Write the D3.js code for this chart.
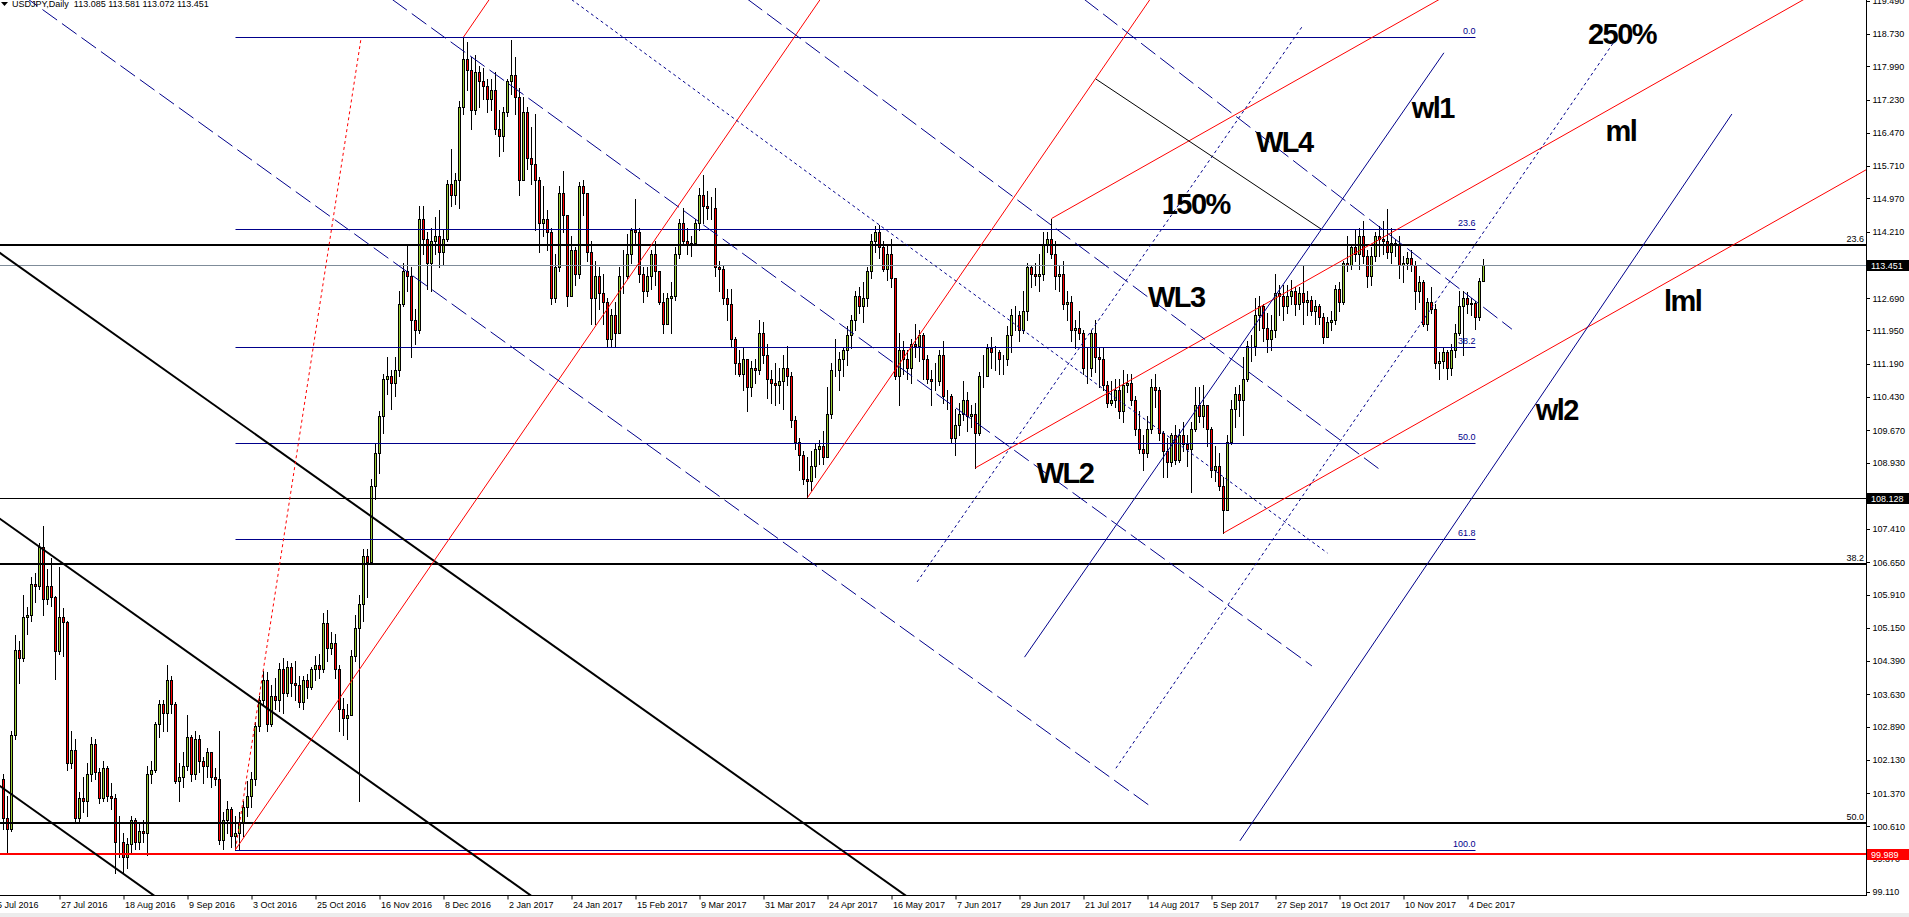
<!DOCTYPE html>
<html>
<head>
<meta charset="utf-8">
<script src="https://cdn.jsdelivr.net/npm/d3@7"></script>
<style>
html, body { margin: 0; padding: 0; background: #fff; overflow: hidden; }
svg { display: block; font-family: "Liberation Sans", Arial, sans-serif; }
</style>
</head>
<body>
<svg id="chart" width="1909" height="917"></svg>
<script>
// USDJPY daily, one row per bar: [close, high, low]; open = previous close
var firstOpen = 101.70;

var jul16toSep16 = [
  // Jul 2016
  [100.80,101.80,100.55],[100.55,101.30,99.99],[102.70,102.80,100.50],[104.65,104.99,102.62],[104.45,104.85,103.90],
  [105.40,105.90,104.40],[105.45,105.63,105.02],[106.15,106.32,105.30],[106.10,106.40,105.75],[107.00,107.10,106.05],
  [105.80,107.48,105.45],[106.10,106.50,105.70],[105.85,106.75,105.65],[104.62,105.88,103.98],[105.40,106.55,104.55],
  [105.28,105.60,104.50],[102.05,105.30,101.90],
  // Aug 2016
  [102.35,102.80,101.95],[100.80,102.60,100.70],[101.25,101.40,100.70],[101.20,101.75,100.95],[101.80,102.05,100.85],
  [102.50,102.65,101.65],[101.85,102.60,101.70],[101.25,101.95,101.15],[101.95,102.10,101.20],[101.30,102.00,101.20],
  [101.25,101.60,101.00],[100.25,101.35,99.55],[100.25,100.85,99.90],[99.90,100.45,99.55],[100.20,100.35,99.65],
  [100.75,100.85,100.00],[100.25,100.80,100.10],[100.50,100.70,100.10],[100.45,100.75,100.25],[101.80,102.00,99.95],
  [101.90,102.10,101.60],[102.95,103.00,101.85],[103.40,103.50,102.65],
  // Sep 2016
  [103.20,103.50,102.80],[103.95,104.30,102.80],
  [103.40,104.05,103.20],[101.65,103.45,101.60],[101.75,102.05,101.20],[102.00,102.30,101.50],[102.65,103.15,101.90],
  [101.80,102.70,101.65],[102.60,102.80,101.70],[102.10,102.70,101.85],[102.00,102.20,101.60],[102.30,102.40,101.75],
  [101.75,102.30,101.50],[101.70,101.95,101.55],[100.30,102.80,100.20],[100.75,100.95,100.10],[101.00,101.20,100.45],
  [100.40,101.05,100.15],[100.45,100.85,100.08],[100.70,100.95,100.10],[101.05,101.20,100.40],[101.30,101.65,100.85]
];

var oct16toDec16 = [
  // Oct 2016
  [101.70,101.85,101.05],[102.90,103.00,101.55],[103.50,103.60,102.80],[103.95,104.16,103.40],[102.95,104.15,102.80],
  [103.60,103.85,102.90],[103.50,104.00,103.30],[104.20,104.35,103.25],[103.65,104.45,103.20],[104.25,104.40,103.60],
  [103.90,104.35,103.60],[103.85,104.40,103.50],[103.45,104.05,103.35],[103.95,104.05,103.30],[103.80,104.10,103.55],
  [104.20,104.25,103.75],[104.30,104.50,103.95],[104.20,104.55,104.00],[105.25,105.50,104.15],[104.70,105.55,104.40],
  [104.80,105.05,104.55],
  // Nov 2016
  [104.20,105.00,104.00],[103.30,104.30,102.80],[103.10,103.55,102.70],[103.15,103.40,102.60],
  [104.50,104.65,103.25],[105.15,105.45,104.40],[105.70,105.90,101.20],[106.80,106.95,105.30],[106.65,106.95,105.85],
  [108.40,108.55,106.60],[109.15,109.35,108.10],[110.00,110.10,108.70],[110.85,110.95,109.60],[110.90,111.35,110.50],
  [110.75,111.05,110.15],[111.05,111.35,110.45],[112.55,112.85,110.90],[113.30,113.50,112.50],[113.20,113.90,112.85],
  [112.20,113.40,111.35],[111.95,112.45,111.65],[114.50,114.80,111.90],
  // Dec 2016
  [114.05,114.80,113.70],[113.50,114.20,112.90],
  [114.00,114.30,112.85],[114.10,114.55,113.70],[113.75,114.70,113.40],[114.05,114.25,113.45],[115.30,115.40,114.00],
  [115.05,116.10,114.80],[115.40,115.55,114.85],[117.05,117.20,114.75],[118.15,118.66,116.90],[117.90,118.55,117.45],
  [117.00,118.20,116.55],[117.85,118.25,116.90],[117.65,118.00,117.05],[117.55,117.95,117.25],[117.25,117.70,116.95],
  [117.45,117.70,117.00],[116.55,117.85,116.45],[116.40,117.00,115.95],[116.95,117.05,116.05]
];

var jan17toMar17 = [
  // Jan 2017
  [117.65,117.70,116.85],[117.80,118.59,117.35],[117.30,118.20,116.90],[115.40,117.50,115.05],[116.95,117.30,115.40],
  [115.90,117.05,115.65],[115.75,116.60,115.30],[115.40,116.90,114.25],[114.40,115.45,113.75],[114.50,115.25,114.10],
  [114.20,114.70,113.80],[112.70,114.30,112.55],[113.40,113.70,112.60],[115.10,115.25,113.30],[114.60,115.60,114.20],
  [112.75,114.60,112.50],[113.80,114.10,112.90],[113.25,113.85,113.00],[115.25,115.35,113.15],[115.10,115.40,114.60],
  [113.75,115.10,113.55],[112.70,114.00,112.10],
  // Feb 2017
  [113.20,113.55,112.10],[112.80,113.40,112.45],[112.60,113.25,112.10],
  [111.75,112.70,111.60],[112.30,112.45,111.60],[111.90,112.60,111.60],[113.20,113.40,111.95],[113.20,113.80,112.80],
  [113.70,114.15,113.15],[114.25,114.30,113.50],[114.20,114.95,113.95],[113.25,114.30,113.05],[112.85,113.40,112.60],
  [113.20,113.40,112.75],[113.70,113.80,112.90],[113.30,114.00,113.00],[112.60,113.30,112.55],[112.10,112.80,111.90],
  [112.70,112.80,112.10],[112.75,113.05,111.90],
  // Mar 2017
  [113.70,113.85,112.65],[114.40,114.50,113.60],[114.00,114.75,113.90],
  [113.90,114.30,113.70],[113.95,114.10,113.65],[114.40,114.50,113.90],[115.05,115.20,114.25],[114.80,115.51,114.40],
  [114.75,115.15,114.50],[114.75,115.00,114.50],[113.40,115.20,113.20],[113.35,113.55,112.85],[112.70,113.45,112.55],
  [112.55,112.90,112.20],[111.75,112.90,111.60],[111.20,111.80,110.95],[110.95,111.50,110.90],[111.30,111.55,110.60],
  [110.65,111.10,110.10],[111.10,111.25,110.45],[111.05,111.30,110.75],[111.90,112.20,110.95],[111.40,112.15,111.20]
];

var apr17toJun17 = [
  // Apr 2017
  [110.85,111.65,110.40],[110.75,111.05,110.30],[110.70,111.20,110.25],[110.80,111.10,110.30],[111.10,111.40,110.15],
  [110.90,111.60,110.70],[109.90,111.00,109.75],[109.40,110.00,109.25],[109.10,109.50,108.75],[108.55,109.20,108.45],
  [108.50,109.05,108.13],[108.85,109.20,108.30],[109.25,109.35,108.60],[109.30,109.45,108.90],[109.05,109.65,108.90],
  [110.05,110.65,109.50],[111.05,111.20,109.95],[111.05,111.75,110.90],[111.30,111.45,110.60],[111.50,111.55,110.90],
  // May 2017
  [111.85,112.05,111.15],[112.20,112.30,111.55],[112.75,112.85,111.95],[112.50,112.95,112.35],[112.70,113.05,112.15],
  [113.30,113.40,112.50],[114.00,114.15,113.15],[114.20,114.35,113.75],[113.85,114.37,113.60],[113.35,114.00,113.30],
  [113.70,113.90,113.10],[113.15,114.05,112.95],[110.90,113.15,110.85],[111.50,111.90,110.25],[111.30,111.70,110.95],
  [111.10,111.50,110.85],[111.65,111.75,110.75],[111.60,112.10,111.35],[111.85,111.95,111.25],[111.30,111.90,110.85],
  [110.85,111.40,110.75],[110.80,111.05,110.25],[110.80,111.20,110.60],
  // Jun 2017
  [111.40,111.50,110.70],[110.45,111.70,110.30],
  [110.45,110.60,110.15],[109.50,110.50,109.40],[109.80,110.15,109.10],[110.05,110.30,109.55],[110.35,110.80,109.90],
  [110.00,110.55,109.65],[110.05,110.25,109.75],[109.60,110.30,108.81],[110.90,111.00,109.55],[110.90,111.40,110.65],
  [111.55,111.65,110.90],[111.45,111.80,111.10],[111.45,111.60,111.05],[111.30,111.50,110.95],[111.30,111.40,110.95],
  [111.85,112.05,111.15],[112.30,112.45,111.45],[112.30,112.50,111.95],[111.95,112.40,111.70],[112.40,112.85,111.90]
];

var jul17toSep17 = [
  // Jul 2017
  [113.40,113.50,112.20],[113.25,113.45,112.95],[113.20,113.50,113.00],[113.25,113.70,112.85],[113.90,114.20,113.10],
  [114.05,114.20,113.75],[113.70,114.50,113.60],[113.20,114.00,112.90],[113.25,113.45,112.85],[112.55,113.55,112.45],
  [112.60,112.85,112.20],[111.95,112.75,111.70],[112.00,112.20,111.55],[111.90,112.40,111.75],[111.10,111.95,110.95],
  [111.10,111.55,110.75],[111.90,111.95,110.90],[111.35,112.20,111.00],[111.30,111.55,110.65],[110.70,111.55,110.60],
  [110.30,110.80,110.20],
  // Aug 2017
  [110.35,110.80,110.25],[110.60,110.85,110.20],[110.10,110.85,109.95],[110.70,111.05,109.85],
  [110.75,110.95,110.55],[110.35,110.95,110.25],[109.70,110.45,109.55],[109.25,110.10,109.15],[109.15,109.55,108.75],
  [109.70,110.00,109.05],[110.65,110.85,109.60],[110.60,110.95,110.20],[109.60,110.65,109.45],[109.20,109.65,108.60],
  [108.95,109.50,108.60],[109.55,109.60,108.85],[109.00,109.80,108.90],[109.55,109.70,108.95],[109.35,109.85,109.20],
  [109.25,109.55,108.85],[109.70,109.85,108.25],[110.25,110.65,109.65],[110.00,110.65,109.85],
  // Sep 2017
  [110.25,110.70,109.75],
  [109.70,110.00,109.30],[108.75,109.75,108.60],[108.85,109.30,108.50],[108.40,109.15,108.30],[107.85,108.60,107.32],
  [109.40,109.55,108.10],[110.15,110.35,109.35],[110.50,110.65,109.75],[110.35,110.70,110.00],[110.85,111.35,109.55],
  [111.60,111.70,110.80],[111.60,111.85,111.25],[112.30,112.70,111.40],[112.50,112.75,111.95],[112.00,112.55,111.70],
  [111.75,112.35,111.45],[111.95,112.30,111.50],[112.80,113.25,111.80],[112.75,113.00,112.30],[112.50,113.00,112.20]
];

var oct17toDec17 = [
  // Oct 2017
  [112.75,113.00,112.35],[112.85,113.10,112.55],[112.55,112.95,112.30],[112.80,112.95,112.45],[112.60,113.45,112.10],
  [112.65,112.85,112.30],[112.40,112.75,112.30],[112.50,112.65,112.10],[112.25,112.55,112.10],[111.80,112.35,111.67],
  [112.15,112.25,111.80],[112.20,112.40,111.95],[112.90,113.00,112.10],[112.60,113.05,112.40],[113.50,113.55,112.55],
  [113.45,114.10,113.30],[113.85,113.90,113.35],[113.70,114.25,113.55],[114.10,114.30,113.35],[113.65,114.45,113.50],
  [113.20,113.80,112.95],[113.65,113.85,113.00],
  // Nov 2017
  [114.10,114.20,113.55],[114.05,114.35,113.65],[114.00,114.45,113.70],
  [113.75,114.73,113.60],[113.95,114.30,113.50],[113.90,114.05,113.65],[113.45,114.10,113.15],[113.50,113.65,113.05],
  [113.60,113.75,113.35],[113.45,113.80,113.30],[112.85,113.55,112.45],[113.05,113.20,112.60],[112.10,113.10,112.05],
  [112.60,112.70,111.95],[112.45,112.95,112.35],[111.20,112.55,111.10],[111.25,111.45,110.85],[111.45,111.55,111.10],
  [111.10,111.50,110.84],[111.50,111.65,110.93],[111.90,112.10,111.35],[112.50,112.85,111.85],
  // Dec 2017
  [112.70,112.85,111.39],[112.55,112.84,112.35],[112.58,112.70,112.30],[112.25,112.62,111.98],[113.085,113.15,112.20],
  [113.451,113.581,113.072]
];

// right price scale
var priceTicks = [119.49,118.73,117.99,117.23,116.47,115.71,114.97,114.21,112.69,111.95,111.19,110.43,
  109.67,108.93,107.41,106.65,105.91,105.15,104.39,103.63,102.89,102.13,101.37,100.61,99.87,99.11];

// time scale: bar index of each date label
var dateTickBars = [-2,14,30,46,62,78,94,110,126,142,158,174,190,206,222,238,254,270,286,302,318,334,350,366];
var dateTickLabels = ["5 Jul 2016","27 Jul 2016","18 Aug 2016","9 Sep 2016","3 Oct 2016","25 Oct 2016",
  "16 Nov 2016","8 Dec 2016","2 Jan 2017","24 Jan 2017","15 Feb 2017","9 Mar 2017","31 Mar 2017",
  "24 Apr 2017","16 May 2017","7 Jun 2017","29 Jun 2017","21 Jul 2017","14 Aug 2017","5 Sep 2017",
  "27 Sep 2017","19 Oct 2017","10 Nov 2017","4 Dec 2017"];

// fibo retracement Dec 2016 high -> Sep 2016 low
var fibLevels = [118.66,114.275,111.562,109.37,107.18,100.08];
var fibLabels = ["0.0","23.6","38.2","50.0","61.8","100.0"];
var fibFromBar = 58, fibToBar = 368;

// long-term fibo levels across the whole chart
var bigFibLevels = [113.905,106.60,100.68];
var bigFibLabels = ["23.6","38.2","50.0"];

var bidPrice = 113.451, aprilLow = 108.128, redLevel = 99.989;

// trend lines: [bar1, price1, bar2, price2]
var blackChannel = [[-1,113.73,230,98.74],[-1,107.65,140,98.50],[-1,101.54,45,98.55]];
var redSolid = [[58,100.08,215,120.96],[115,118.66,130,120.66],[201,108.13,300,121.30],
  [262,114.51,470,125.26],[243,108.81,470,120.55],[305,107.32,470,115.85]];
var redDotted = [[58,100.08,89.4,118.64]];
var navyDashed = [[0,119.93,286.9,101.06],[92.35,119.84,327.1,104.28],[181.25,119.85,343.8,108.79],[265.4,119.86,377.1,111.98]];
var navyDotted = [[137.2,119.84,331.0,106.86],[228.4,106.2,324.9,118.93],[278.1,101.94,402.4,118.52]];
var navySolid = [[255.25,104.48,360.1,118.30],[309.1,100.28,432.1,116.90]];
var blackThin = [[273.1,117.70,329.4,114.27]];

var annotations = [
  ["250%",396.1,118.49],["WL4",313.1,116.03],["wl1",352.05,116.81],["ml",400.5,116.28],
  ["150%",289.55,114.61],["WL3",286.1,112.49],["lml",415.1,112.40],["wl2",383.05,109.91],["WL2",258.3,108.46]
];

var svg = d3.select("#chart");
var plotW = 1866, plotH = 895;
var navy = "#00008b";

var x = d3.scaleLinear().domain([0, 370]).range([3.5, 1483.5]);
var y = d3.scaleLinear().domain([99.11, 118.73]).range([892, 34]);

svg.append("defs").append("clipPath").attr("id", "plotClip")
  .append("rect").attr("x", 0).attr("y", 0).attr("width", plotW).attr("height", plotH);

var rows = [].concat(jul16toSep16, oct16toDec16, jan17toMar17, apr17toJun17, jul17toSep17, oct17toDec17);
var prev = firstOpen;
var bars = rows.map(function (r, i) {
  var o = prev;
  prev = r[0];
  return {i: i, o: o, c: r[0], h: Math.max(r[1], o, r[0]), l: Math.min(r[2], o, r[0])};
});

var plot = svg.append("g").attr("clip-path", "url(#plotClip)");

// candles
var candles = plot.append("g");
candles.selectAll("line").data(bars).enter().append("line")
  .attr("x1", d => x(d.i)).attr("x2", d => x(d.i))
  .attr("y1", d => Math.round(y(d.h))).attr("y2", d => Math.round(y(d.l)) + 1)
  .attr("stroke", "#000").attr("stroke-width", 1);
candles.selectAll("rect").data(bars).enter().append("rect")
  .attr("x", d => x(d.i) - 1)
  .attr("y", d => Math.round(y(Math.max(d.o, d.c))) + 0.5)
  .attr("width", 2)
  .attr("height", d => Math.max(0, Math.round(y(Math.min(d.o, d.c))) - Math.round(y(Math.max(d.o, d.c)))))
  .attr("fill", d => d.c >= d.o ? "#9acd32" : "#ff0000")
  .attr("stroke", "#000").attr("stroke-width", 1);

// horizontal levels
function hline(price, color, width) {
  var yy = width % 2 ? Math.round(y(price)) + 0.5 : Math.round(y(price));
  plot.append("line").attr("x1", 0).attr("x2", plotW).attr("y1", yy).attr("y2", yy)
    .attr("stroke", color).attr("stroke-width", width);
}
hline(bidPrice, "#7f8c99", 1);
hline(aprilLow, "#000", 1);
hline(redLevel, "#ff0000", 2);
bigFibLevels.forEach(function (p) { hline(p, "#000", 2); });

// fibo lines
plot.append("g").selectAll("line").data(fibLevels).enter().append("line")
  .attr("x1", x(fibFromBar)).attr("x2", x(fibToBar))
  .attr("y1", d => Math.round(y(d)) + 0.5).attr("y2", d => Math.round(y(d)) + 0.5)
  .attr("stroke", navy).attr("stroke-width", 1);
plot.append("g").selectAll("text").data(fibLevels).enter().append("text")
  .attr("x", x(fibToBar)).attr("y", d => Math.round(y(d)) - 3)
  .attr("text-anchor", "end").attr("font-size", 9).attr("fill", navy)
  .text((d, i) => fibLabels[i]);

// trend lines
function segs(list, color, width, dash) {
  plot.append("g").selectAll("line").data(list).enter().append("line")
    .attr("x1", d => x(d[0])).attr("y1", d => y(d[1]))
    .attr("x2", d => x(d[2])).attr("y2", d => y(d[3]))
    .attr("stroke", color).attr("stroke-width", width)
    .attr("stroke-dasharray", dash || null);
}
segs(blackChannel, "#000", 2);
segs(redSolid, "#ff0000", 1);
segs(redDotted, "#ff0000", 1, "3,3");
segs(navyDashed, navy, 1, "18,6");
segs(navyDotted, navy, 1, "3,3");
segs(navySolid, navy, 1);
segs(blackThin, "#000", 1);

// big text labels
plot.append("g").selectAll("text").data(annotations).enter().append("text")
  .attr("x", d => x(d[1])).attr("y", d => y(d[2]))
  .attr("font-size", 29).attr("font-weight", "bold").attr("letter-spacing", "-1.5px")
  .attr("fill", "#000").text(d => d[0]);

// labels of long fibo levels at right edge
var bf = svg.append("g");
bigFibLevels.forEach(function (p, i) {
  var yy = Math.round(y(p));
  bf.append("rect").attr("x", 1845).attr("y", yy - 11).attr("width", 21).attr("height", 10).attr("fill", "#fff");
  bf.append("text").attr("x", 1864).attr("y", yy - 3).attr("text-anchor", "end")
    .attr("font-size", 9).attr("fill", "#000").text(bigFibLabels[i]);
});

// frame
svg.append("line").attr("x1", plotW + 0.5).attr("x2", plotW + 0.5).attr("y1", 0).attr("y2", plotH + 1).attr("stroke", "#000");
svg.append("line").attr("x1", 0).attr("x2", plotW + 1).attr("y1", plotH + 0.5).attr("y2", plotH + 0.5).attr("stroke", "#000");
svg.append("rect").attr("x", 0).attr("y", 913).attr("width", 1909).attr("height", 4).attr("fill", "#ececec");

// price axis
var yAxis = d3.axisRight(y).tickValues(priceTicks).tickFormat(d3.format(".3f")).tickSize(3).tickPadding(3);
var ya = svg.append("g").attr("transform", "translate(" + (plotW + 0.5) + ",0)").call(yAxis);
ya.select(".domain").remove();
ya.selectAll("line").attr("shape-rendering", "crispEdges");
ya.selectAll("text").attr("font-size", 9).attr("font-family", "Liberation Sans, Arial, sans-serif");

// time axis
var xAxis = d3.axisBottom(x).tickValues(dateTickBars).tickFormat((d, i) => dateTickLabels[i]).tickSize(4).tickPadding(2);
var xa = svg.append("g").attr("transform", "translate(0," + (plotH + 0.5) + ")").call(xAxis);
xa.select(".domain").remove();
xa.selectAll("text").attr("text-anchor", "start").attr("x", 1)
  .attr("font-size", 9).attr("font-family", "Liberation Sans, Arial, sans-serif");

// price tags on the axis
function tag(price, bg) {
  var yy = Math.round(y(price));
  svg.append("rect").attr("x", plotW + 1).attr("y", yy - 5).attr("width", 42).attr("height", 11).attr("fill", bg);
  svg.append("text").attr("x", plotW + 5).attr("y", yy + 4).attr("font-size", 9).attr("fill", "#fff")
    .text(d3.format(".3f")(price));
}
tag(bidPrice, "#000");
tag(aprilLow, "#000");
tag(redLevel, "#ff0000");

// header
svg.append("path").attr("d", "M1,2 L8,2 L4.5,6 Z").attr("fill", "#000");
var last = bars[bars.length - 1];
svg.append("text").attr("x", 12).attr("y", 7).attr("font-size", 9).attr("fill", "#000")
  .attr("xml:space", "preserve").style("white-space", "pre")
  .text("USDJPY,Daily  " + [last.o, last.h, last.l, last.c].map(d3.format(".3f")).join(" "));
</script>
</body>
</html>
